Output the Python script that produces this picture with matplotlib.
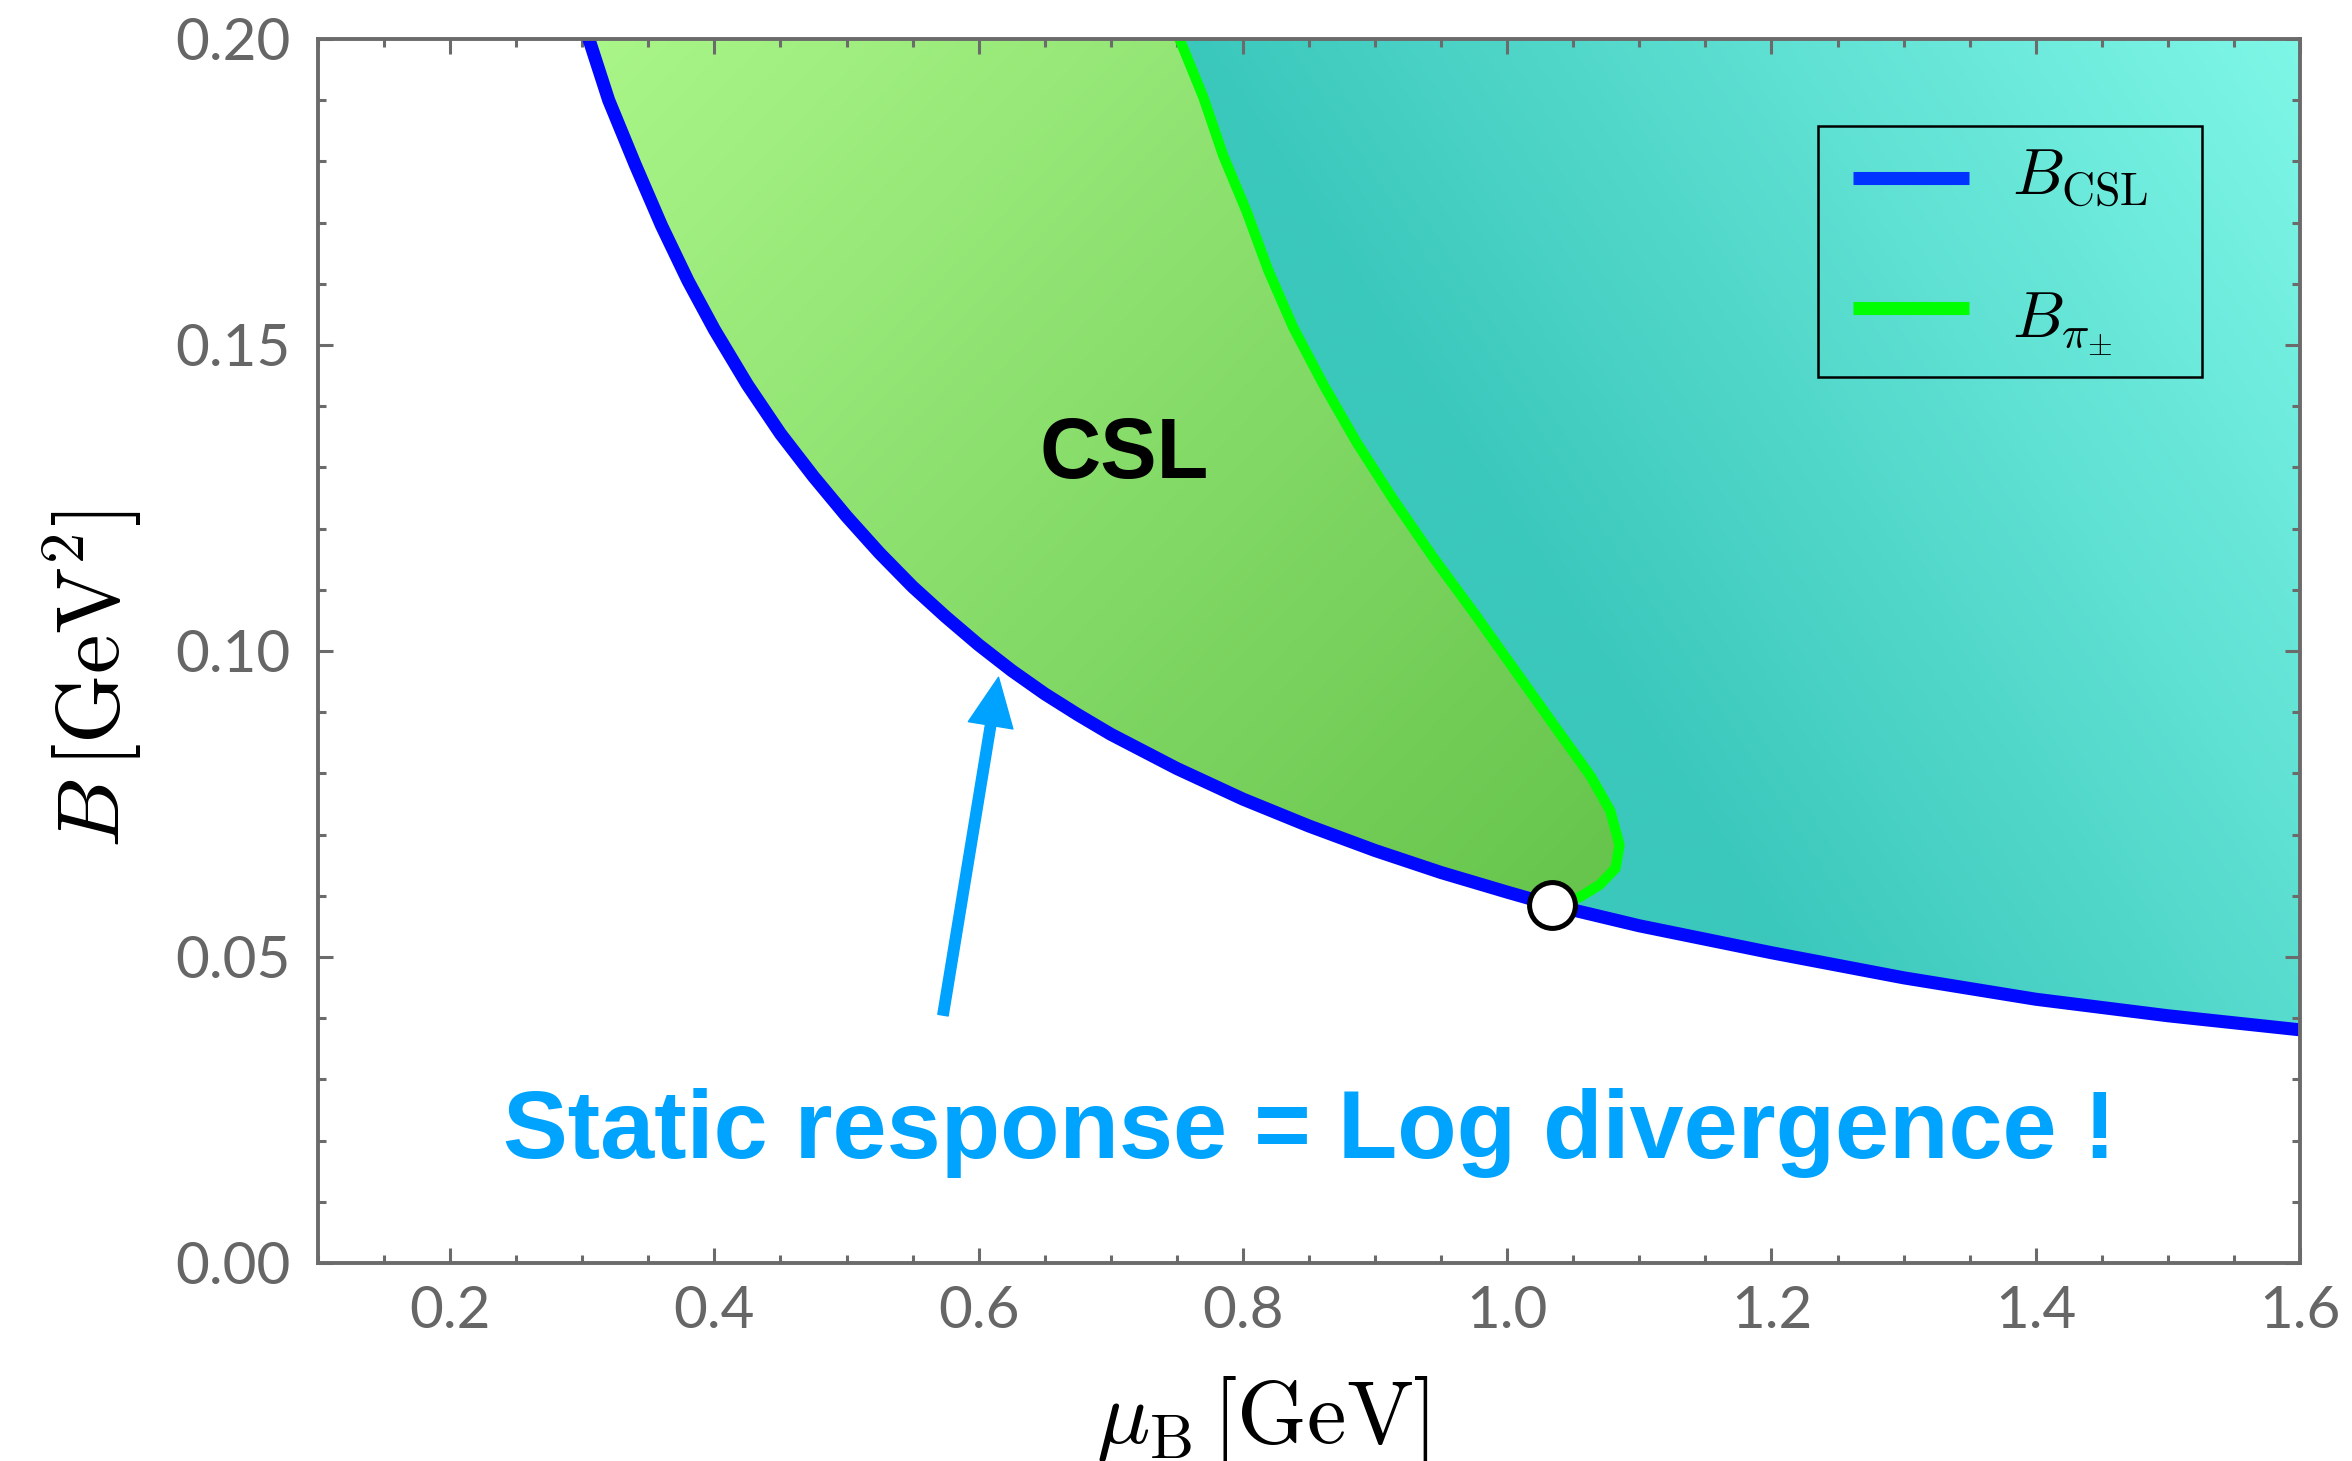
import numpy as np
import matplotlib
matplotlib.use("Agg")
import matplotlib.pyplot as plt
from matplotlib.colors import LinearSegmentedColormap
from matplotlib.patches import Polygon, Rectangle
from matplotlib.lines import Line2D

plt.rcParams['mathtext.fontset'] = 'cm'

# B_CSL(mu_B), blue line
mu_csl = [0.300, 0.305, 0.32, 0.34, 0.36, 0.38, 0.40, 0.425, 0.45, 0.475, 0.50, 0.525, 0.55,
          0.575, 0.60, 0.625, 0.65, 0.675, 0.70, 0.75, 0.80, 0.85, 0.90, 0.95, 1.00, 1.034,
          1.10, 1.20, 1.30, 1.40, 1.50, 1.60]
b_csl = [0.2035, 0.200, 0.190, 0.1795, 0.1695, 0.1605, 0.1525, 0.1435, 0.1355, 0.1285, 0.1220,
         0.1160, 0.1105, 0.1056, 0.1010, 0.0968, 0.0930, 0.0896, 0.0864, 0.0808, 0.0758, 0.0714,
         0.0674, 0.0638, 0.0606, 0.0585, 0.0551, 0.0507, 0.0466, 0.0431, 0.0404, 0.0381]
i_end = 25   # index where B_pi meets B_CSL

# B_pi(mu_B), green line, top edge down to the end point
mu_pi = [0.752, 0.770, 0.785, 0.803, 0.819, 0.838, 0.861, 0.886, 0.914, 0.944, 0.976,
         1.007, 1.038, 1.063, 1.078, 1.085, 1.082, 1.070, 1.055, 1.034]
b_pi = [0.200, 0.1905, 0.181, 0.1717, 0.1623, 0.1529, 0.1435, 0.1341, 0.1247, 0.1153, 0.1059,
        0.0965, 0.0871, 0.0796, 0.0739, 0.0683, 0.0645, 0.0618, 0.0598, 0.0585]

x_ticks = [0.2, 0.4, 0.6, 0.8, 1.0, 1.2, 1.4, 1.6]
y_ticks = [0.00, 0.05, 0.10, 0.15, 0.20]

gray = '#6b6b6b'
fig = plt.figure(figsize=(23.52, 14.61), dpi=100)
ax = fig.add_axes([318/2352, 198/1461, 1982/2352, 1224/1461])

# gradient fills clipped to the two regions
U, V = np.meshgrid(np.linspace(0, 1, 600), np.linspace(0, 1, 600))
cm_green = LinearSegmentedColormap.from_list('g', ['#aaf689', '#67c54d'])
cm_teal = LinearSegmentedColormap.from_list('t', ['#3bc8bc', '#82f9e9'])
t_green = np.clip(((U - 0.13) + (1 - V) * 0.6) / 0.92, 0, 1)
t_teal = np.clip(1.7 * U + 0.68 * V - 1.428, 0, 1)

green_pts = list(zip(mu_csl[:i_end + 1], b_csl[:i_end + 1])) + list(zip(mu_pi[::-1], b_pi[::-1]))
teal_pts = list(zip(mu_pi, b_pi)) + list(zip(mu_csl[i_end:], b_csl[i_end:])) + [(1.6, 0.2)]

for pts, cmap, t in [(green_pts, cm_green, t_green), (teal_pts, cm_teal, t_teal)]:
    poly = Polygon(pts, closed=True, transform=ax.transData, facecolor='none', edgecolor='none')
    im = ax.imshow(cmap(t), origin='lower', extent=(0.1, 1.6, 0, 0.2), aspect='auto',
                   interpolation='bilinear', zorder=1)
    im.set_clip_path(poly)

ax.plot(mu_pi, b_pi, color='#00ff00', lw=7.4, zorder=3, solid_capstyle='butt',
        solid_joinstyle='round')
ax.plot(mu_csl, b_csl, color='#0008ff', lw=9.4, zorder=4, solid_capstyle='butt',
        solid_joinstyle='round')
ax.plot([mu_pi[-1]], [b_pi[-1]], 'o', ms=33, mfc='white', mec='black', mew=3.6, zorder=5)

ax.set_xlim(0.1, 1.6)
ax.set_ylim(0, 0.2)
ax.set_xticks(x_ticks)
ax.set_xticklabels(['%.1f' % v for v in x_ticks])
ax.set_yticks(y_ticks)
ax.set_yticklabels(['%.2f' % v for v in y_ticks])
ax.set_xticks(np.arange(0.1, 1.6001, 0.05), minor=True)
ax.set_yticks(np.arange(0, 0.2001, 0.01), minor=True)
ax.tick_params(which='both', direction='in', top=True, right=True, color=gray,
               labelcolor='#666666', labelsize=42)
ax.tick_params(which='major', length=10.5, width=2.2)
ax.tick_params(which='minor', length=5.8, width=2.2)
ax.tick_params(axis='x', pad=16)
ax.tick_params(axis='y', pad=20)
for lab in ax.get_xticklabels() + ax.get_yticklabels():
    lab.set_fontfamily('Lato')
for s in ax.spines.values():
    s.set_color(gray)
    s.set_linewidth(2.8)
    s.set_zorder(6)

# legend drawn as a plain box
ax.add_patch(Rectangle((0.7568, 0.7239), 0.1938, 0.2050, transform=ax.transAxes,
                       facecolor='none', edgecolor='black', lw=1.8, zorder=7))
ax.add_line(Line2D([0.7745, 0.8330], [0.8864, 0.8864], transform=ax.transAxes,
                   color='#0033ff', lw=9.4, solid_capstyle='butt', zorder=7))
ax.add_line(Line2D([0.7745, 0.8330], [0.7802, 0.7802], transform=ax.transAxes,
                   color='#00ff00', lw=9.4, solid_capstyle='butt', zorder=7))
ax.text(0.8547, 0.8725, r'$B_{\rm CSL}$', transform=ax.transAxes, fontsize=47,
        va='baseline', zorder=7)
ax.text(0.8547, 0.7565, r'$B_{\pi_{\pm}}$', transform=ax.transAxes, fontsize=47,
        va='baseline', zorder=7)

ax.text(0.71, 0.1319, 'CSL', fontsize=61, fontweight='bold', family='Liberation Sans',
        ha='center', va='center', zorder=7)
ax.text(0.85, 0.0213, 'Static response = Log divergence !', fontsize=70, fontweight='bold',
        family='Liberation Sans', color='#00a4ff', ha='center', va='center', zorder=7)
ax.annotate('', xy=(0.615, 0.0957), xytext=(0.573, 0.0405),
            arrowprops=dict(arrowstyle='simple,head_length=1.4,head_width=1.3,tail_width=0.3',
                            mutation_scale=25, color='#00a2ff', shrinkA=0, shrinkB=0), zorder=7)

fig.text(1262/2352, 18/1461, r'$\mu_{\rm B}\,[{\rm GeV}]$', fontsize=64, ha='center', va='baseline')
fig.text(93/2352, 1 - 679/1461, r'$B\,[{\rm GeV}^2]$', fontsize=64, rotation=90,
         ha='center', va='center')

fig.savefig('out.png', dpi=100)
